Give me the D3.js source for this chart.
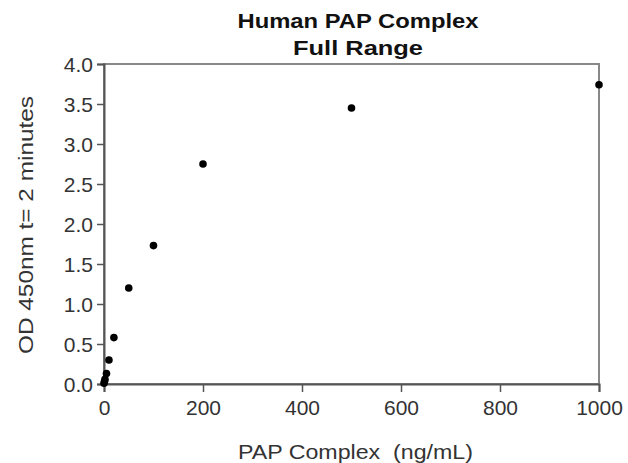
<!DOCTYPE html>
<html>
<head>
<meta charset="utf-8">
<script src="https://cdn.jsdelivr.net/npm/d3@7"></script>
<style>
  body { margin: 0; background: #fff; }
  text { font-family: "Liberation Sans", Arial, sans-serif; }
</style>
</head>
<body>
<div id="chart"></div>
<script>
// concentration of standards (ng/mL) and OD readings
const conc = [0, 1, 2, 5, 10, 20, 50, 100, 200, 500, 1000];
const od = [0.01, 0.03, 0.06, 0.13, 0.30, 0.58, 1.20, 1.73, 2.75, 3.45, 3.74];
const xTicks = [0, 200, 400, 600, 800, 1000];
const yTicks = [0, 0.5, 1, 1.5, 2, 2.5, 3, 3.5, 4];
const titleLines = ["Human PAP Complex", "Full Range"];

let width = 628, height = 463;
let margin = {top: 64, right: 29, bottom: 79, left: 104};
let w = width - margin.left - margin.right;
let h = height - margin.top - margin.bottom;

let svg = d3.select("#chart").append("svg")
    .attr("width", width)
    .attr("height", height);

let g = svg.append("g")
    .attr("transform", "translate(" + margin.left + "," + margin.top + ")");

let x = d3.scaleLinear().domain([0, 1000]).range([0, w]);
let y = d3.scaleLinear().domain([0, 4]).range([h, 0]);

// frame (top and right)
g.append("rect")
    .attr("width", w)
    .attr("height", h)
    .attr("fill", "none")
    .attr("stroke", "#888")
    .attr("stroke-width", 2);

let xAxis = g.append("g")
    .attr("transform", "translate(0," + h + ")")
    .call(d3.axisBottom(x).tickValues(xTicks).tickSize(8).tickPadding(5).tickFormat(d3.format("d")));

let yAxis = g.append("g")
    .call(d3.axisLeft(y).tickValues(yTicks).tickSize(7).tickPadding(4).tickFormat(d3.format(".1f")));

[xAxis, yAxis].forEach(function(a) {
    a.select(".domain").attr("stroke", "#555").attr("stroke-width", 2);
    a.selectAll(".tick line").attr("stroke", "#555").attr("stroke-width", 1.5);
    a.selectAll(".tick text")
        .attr("fill", "#333")
        .style("font-size", "21px")
        .style("font-family", "'Liberation Sans', Arial, sans-serif");
});
yAxis.selectAll(".tick text").attr("dy", "0.36em");
xAxis.selectAll(".tick text").attr("dy", "0.85em");

g.selectAll(".dot")
    .data(conc)
    .enter().append("circle")
    .attr("class", "dot")
    .attr("cx", function(d) { return x(d); })
    .attr("cy", function(d, i) { return y(od[i]); })
    .attr("r", 3.8)
    .attr("fill", "#000");

// titles
let titleW = [241, 130];
svg.selectAll(".title")
    .data(titleLines)
    .enter().append("text")
    .attr("class", "title")
    .attr("x", 358)
    .attr("y", function(d, i) { return 28 + i * 27; })
    .attr("text-anchor", "middle")
    .attr("textLength", function(d, i) { return titleW[i]; })
    .attr("lengthAdjust", "spacingAndGlyphs")
    .style("font-size", "20px")
    .style("font-weight", "bold")
    .attr("fill", "#111")
    .text(function(d) { return d; });

svg.append("text")
    .attr("x", margin.left + w / 2 + 4)
    .attr("y", 459)
    .attr("text-anchor", "middle")
    .attr("textLength", 235)
    .attr("lengthAdjust", "spacingAndGlyphs")
    .style("font-size", "21px")
    .attr("fill", "#333")
    .attr("xml:space", "preserve")
    .text("PAP Complex  (ng/mL)");

svg.append("text")
    .attr("transform", "rotate(-90)")
    .attr("x", -225)
    .attr("y", 33)
    .attr("text-anchor", "middle")
    .attr("textLength", 258)
    .attr("lengthAdjust", "spacingAndGlyphs")
    .style("font-size", "21px")
    .attr("fill", "#333")
    .text("OD 450nm t= 2 minutes");
</script>
</body>
</html>
